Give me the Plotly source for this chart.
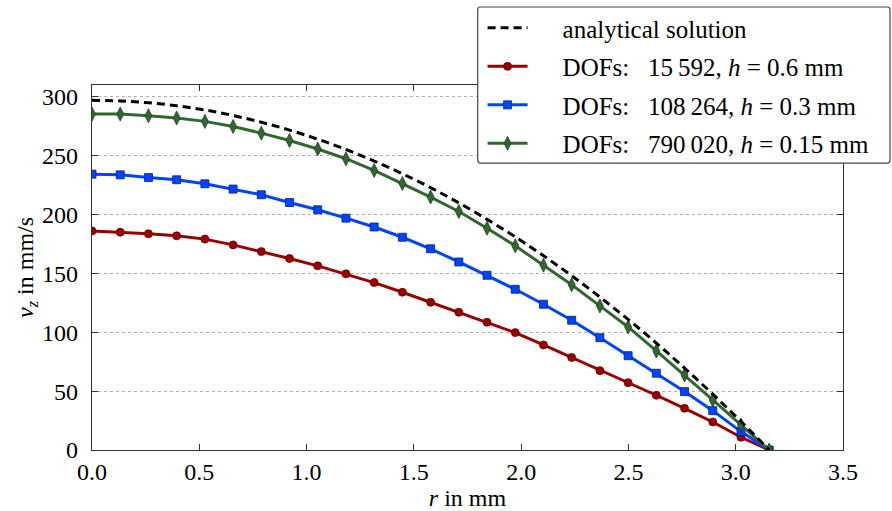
import plotly.graph_objects as go

r_mm = [0.0, 0.1315, 0.263, 0.3945, 0.526, 0.6575, 0.789, 0.9205, 1.052, 1.1835,
        1.315, 1.4465, 1.578, 1.7095, 1.841, 1.9725, 2.104, 2.2355, 2.367, 2.4985,
        2.63, 2.7615, 2.893, 3.0245, 3.156]

v_analytical = [297.0, 296.5, 294.9, 292.4, 288.8, 284.1, 278.4, 271.7, 264.0, 255.2,
                245.4, 234.6, 222.8, 209.9, 195.9, 181.0, 165.0, 148.0, 129.9, 110.9,
                90.8, 69.6, 47.4, 24.2, 0.0]
v_h06 = [186.1, 185.0, 183.6, 181.9, 179.1, 174.2, 168.5, 162.6, 156.4, 149.6,
         142.2, 134.0, 125.5, 117.0, 108.5, 99.7, 89.2, 78.6, 67.4, 57.2,
         46.5, 35.4, 23.8, 10.8, 0.0]
v_h03 = [234.3, 233.7, 231.4, 229.5, 226.1, 221.6, 216.8, 210.2, 204.0, 196.9,
         189.4, 180.7, 170.9, 159.7, 148.4, 136.5, 123.8, 110.2, 95.4, 80.1,
         65.2, 49.6, 33.4, 15.6, 0.0]
v_h015 = [285.3, 285.3, 283.9, 282.0, 279.1, 274.8, 269.1, 262.9, 255.6, 247.4,
          237.4, 226.4, 214.8, 202.6, 188.4, 173.4, 157.0, 140.3, 122.4, 104.5,
          84.1, 63.7, 42.5, 21.3, 0.0]

PAD = "\u2003\u2009"
names = [PAD + "analytical solution",
         PAD + "DOFs:\u2002 15\u2009592, <i>h</i> = 0.6 mm",
         PAD + "DOFs:\u2002 108\u2009264, <i>h</i> = 0.3 mm",
         PAD + "DOFs:\u2002 790\u2009020, <i>h</i> = 0.15 mm"]

x_ticks = [0.0, 0.5, 1.0, 1.5, 2.0, 2.5, 3.0, 3.5]
y_ticks = [0, 50, 100, 150, 200, 250, 300]

FONT = "Liberation Serif, Times New Roman, DejaVu Serif, serif"
fig = go.Figure()

fig.add_trace(go.Scatter(x=r_mm, y=v_h06, name=names[1], mode="lines+markers",
                         line=dict(color="#990000", width=3),
                         marker=dict(symbol="circle", size=8, color="#990000",
                                     line=dict(color="#660000", width=0.8)),
                         legendrank=2, legendgroup="b"))
fig.add_trace(go.Scatter(x=r_mm, y=v_h03, name=names[2], mode="lines+markers",
                         line=dict(color="#0044FF", width=3),
                         marker=dict(symbol="square", size=8, color="#0044FF",
                                     line=dict(color="#00208A", width=0.8)),
                         legendrank=3, legendgroup="c"))
fig.add_trace(go.Scatter(x=r_mm, y=v_h015, name=names[3], mode="lines+markers",
                         line=dict(color="#336633", width=3),
                         marker=dict(symbol="diamond-tall", size=10, color="#336633",
                                     line=dict(color="#1E421E", width=0.8)),
                         legendrank=4, legendgroup="d"))
fig.add_trace(go.Scatter(x=r_mm, y=v_analytical, name=names[0], mode="lines",
                         line=dict(color="black", width=3, dash="8px,5px", shape="spline"),
                         legendrank=1, legendgroup="a"))

fig.update_layout(
    width=892, height=511,
    margin=dict(l=92, r=49, t=85, b=61, autoexpand=False),
    paper_bgcolor="white", plot_bgcolor="white",
    font=dict(family=FONT, size=24, color="black"),
    showlegend=True,
    legend=dict(xref="container", yref="container", x=0.541, y=0.99,
                xanchor="left", yanchor="top",
                bgcolor="rgba(0,0,0,0)", borderwidth=0,
                font=dict(family=FONT, size=25),
                tracegroupgap=3, itemwidth=40),
    xaxis=dict(range=[0, 3.5], tickvals=x_ticks,
               ticktext=[f"{v:.1f}" for v in x_ticks],
               ticks="inside", ticklen=6, tickcolor="#333", mirror="allticks",
               showline=True, linecolor="#333", linewidth=1.2,
               showgrid=False, zeroline=False, automargin=False,
               title=dict(text="<i>r</i> in mm", standoff=0,
                          font=dict(family=FONT, size=24))),
    yaxis=dict(range=[0, 310], tickvals=y_ticks,
               ticks="inside", ticklen=6, tickcolor="#333", mirror="allticks",
               showline=True, linecolor="#333", linewidth=1.2,
               showgrid=True, gridcolor="#b0b0b0", griddash="dot", gridwidth=1,
               zeroline=False, ticklabelstandoff=8, automargin=False,
               title=dict(text="<i>v</i><sub><i>z</i></sub> in mm/s", standoff=0,
                          font=dict(family=FONT, size=24))),
    shapes=[dict(type="path", xref="paper", yref="paper", layer="above",
                 path="M 0.5166,1.2137 L 1.0596,1.2137 Q 1.0626,1.2137 1.0626,1.2055 "
                      "L 1.0626,0.7942 Q 1.0626,0.786 1.0596,0.786 L 0.5166,0.786 "
                      "Q 0.5136,0.786 0.5136,0.7942 L 0.5136,1.2055 Q 0.5136,1.2137 0.5166,1.2137 Z",
                 fillcolor="white", line=dict(color="#444", width=1.2))],
)

fig.write_html("out.html", config={"displayModeBar": False},
               post_script="document.body.style.margin='0';document.body.style.overflow='hidden';")
